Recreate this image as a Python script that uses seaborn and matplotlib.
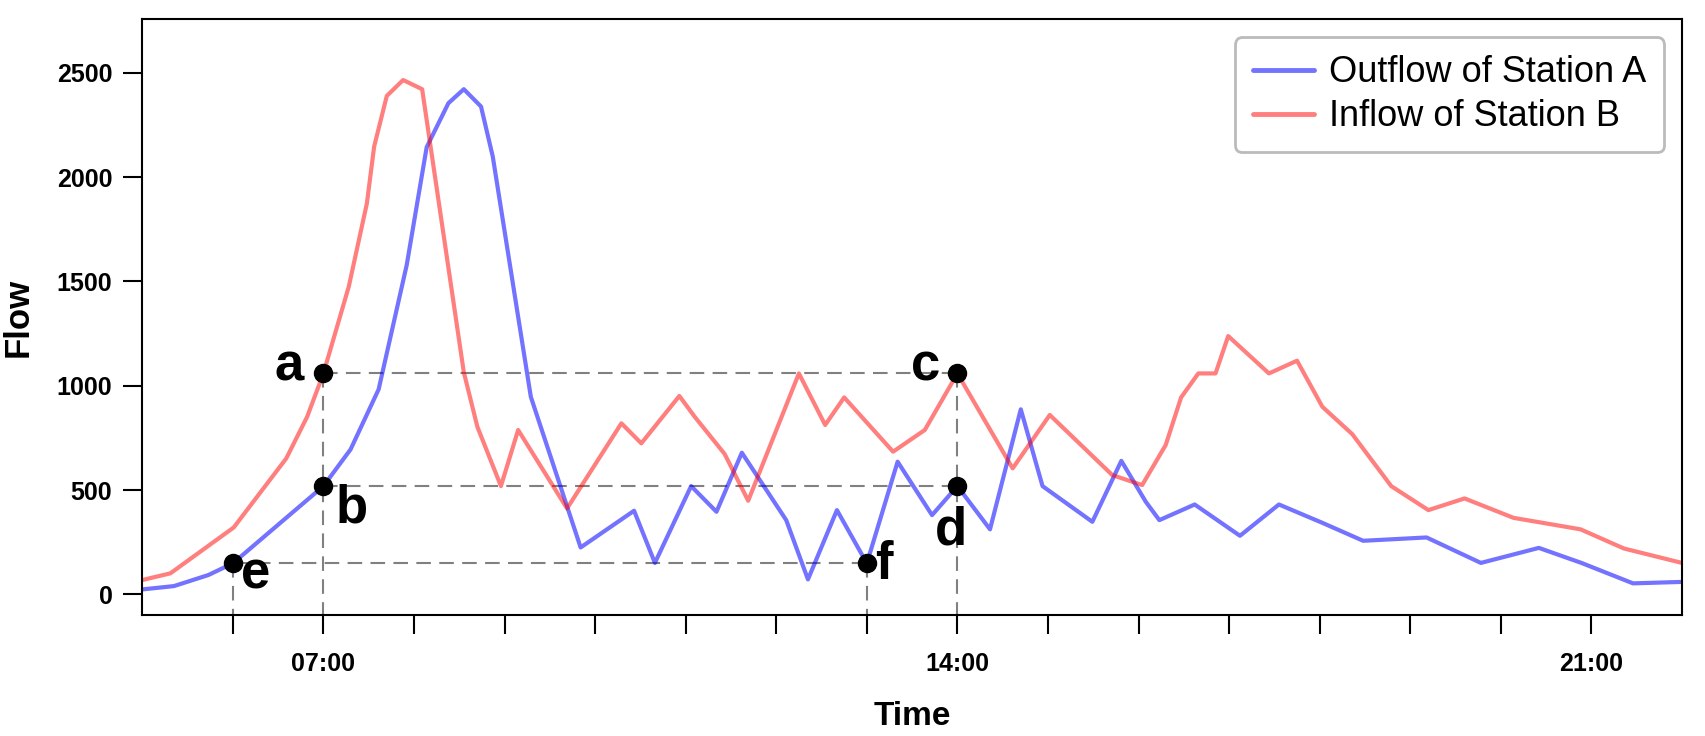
import numpy as np
import pandas as pd
import matplotlib.pyplot as plt
import seaborn as sns

# ---- data (time in hours, flow) ----
outflow_hours = [5.0, 5.35, 5.73, 6.0, 7.0, 7.30, 7.61, 7.92, 8.14, 8.38, 8.55, 8.74, 8.87,
                 9.29, 9.84, 10.43, 10.66, 11.06, 11.34, 11.62, 12.11, 12.35, 12.67, 13.0,
                 13.34, 13.72, 14.0, 14.36, 14.70, 14.94, 15.49, 15.81, 16.08, 16.23, 16.62,
                 17.12, 17.55, 18.03, 18.48, 19.18, 19.78, 20.42, 20.89, 21.46, 22.0]
outflow_values = [24, 40, 93, 149, 519, 695, 983, 1579, 2143, 2354, 2421, 2338, 2098,
                  947, 225, 401, 151, 519, 396, 679, 356, 72, 404, 149,
                  636, 380, 519, 312, 887, 519, 348, 640, 444, 356, 431,
                  281, 431, 343, 257, 273, 151, 223, 151, 53, 60]

inflow_hours = [5.0, 5.31, 6.01, 6.59, 6.82, 7.0, 7.28, 7.48, 7.56, 7.70, 7.88, 8.09, 8.55,
                8.70, 8.96, 9.15, 9.69, 10.29, 10.51, 10.93, 11.10, 11.43, 11.69, 12.25,
                12.54, 12.75, 13.29, 13.64, 14.0, 14.61, 15.02, 15.71, 16.04, 16.30, 16.47,
                16.66, 16.85, 16.99, 17.44, 17.75, 18.03, 18.36, 18.79, 19.20, 19.60, 20.14,
                20.88, 21.36, 22.0]
inflow_values = [69, 101, 321, 652, 851, 1059, 1475, 1874, 2146, 2389, 2465, 2421, 1065,
                 803, 519, 788, 412, 820, 724, 951, 851, 673, 449, 1059,
                 812, 944, 684, 788, 1059, 604, 860, 572, 524, 716, 944,
                 1059, 1059, 1238, 1059, 1120, 899, 768, 519, 404, 460, 367,
                 312, 220, 151]

# marked points a-f
point_labels = ['a', 'b', 'c', 'd', 'e', 'f']
point_hours = [7.0, 7.0, 14.0, 14.0, 6.0, 13.0]
point_values = [1059, 519, 1059, 519, 149, 149]

tick_hours = list(range(6, 22))
tick_labels = ['07:00' if h == 7 else '14:00' if h == 14 else '21:00' if h == 21 else ''
               for h in tick_hours]

df = pd.concat([
    pd.DataFrame({'Time': outflow_hours, 'Flow': outflow_values, 'Series': 'Outflow of Station A'}),
    pd.DataFrame({'Time': inflow_hours, 'Flow': inflow_values, 'Series': 'Inflow of Station B'}),
])

# ---- style ----
sns.set_style('ticks')
plt.rcParams['font.family'] = ['Liberation Sans', 'DejaVu Sans']
plt.rcParams['text.color'] = 'black'
plt.rcParams['axes.labelcolor'] = 'black'
plt.rcParams['xtick.color'] = 'black'
plt.rcParams['ytick.color'] = 'black'

fig = plt.figure(figsize=(17.06, 7.36), dpi=100)
ax = fig.add_axes([0.0834, 0.164, 0.9025, 0.8098])

ax.set_xlim(5, 22)
ax.set_ylim(-100, 2756)
ybot = ax.get_ylim()[0]

# dashed guide lines
dash = dict(color='#808080', lw=1.5, linestyle=(0, (7, 4)), zorder=1)
# horizontal: a->c, b->d, e->f
ax.plot([point_hours[0], point_hours[2]], [point_values[0], point_values[2]], **dash)
ax.plot([point_hours[1], point_hours[3]], [point_values[1], point_values[3]], **dash)
ax.plot([point_hours[4], point_hours[5]], [point_values[4], point_values[5]], **dash)
# vertical from a, c, e, f down to the axis
for i in [0, 2, 4, 5]:
    ax.plot([point_hours[i], point_hours[i]], [point_values[i], ybot], **dash)

sns.lineplot(data=df, x='Time', y='Flow', hue='Series',
             palette={'Outflow of Station A': (0, 0, 1, 0.55), 'Inflow of Station B': (1, 0, 0, 0.5)},
             linewidth=3, sort=False, ax=ax, zorder=2)

ax.plot(point_hours, point_values, 'o', color='black', markersize=13, zorder=4)

offsets = {'a': (-14, -5, 'right'), 'b': (9, -26, 'left'), 'c': (-12, -5, 'right'),
           'd': (-16, -42, 'left'), 'e': (6, -18, 'left'), 'f': (6, -11, 'left')}
for lab, hx, vy in zip(point_labels, point_hours, point_values):
    dx, dy, ha = offsets[lab]
    ax.annotate(lab, (hx, vy), xytext=(dx, dy), textcoords='offset points',
                ha=ha, va='baseline', fontsize=38, fontweight='bold', zorder=5)

ax.set_xticks(tick_hours)
ax.set_xticklabels(tick_labels)
ax.set_yticks([0, 500, 1000, 1500, 2000, 2500])
ax.tick_params(axis='both', direction='out', length=13.5, width=1.5, labelsize=18,
               bottom=True, left=True, colors='black')
ax.tick_params(axis='x', pad=13)
ax.tick_params(axis='y', pad=8)
for lab in ax.get_xticklabels() + ax.get_yticklabels():
    lab.set_fontweight('bold')

ax.set_xlabel('Time', fontsize=24, fontweight='bold', labelpad=18)
ax.set_ylabel('Flow', fontsize=25, fontweight='bold', labelpad=16)

for s in ax.spines.values():
    s.set_visible(True)
    s.set_color('black')
    s.set_linewidth(1.5)

leg = ax.legend(loc='upper right', fontsize=26, handlelength=1.7, handletextpad=0.4,
                labelspacing=0.25, borderpad=0.5, borderaxespad=0.5, fancybox=True,
                framealpha=1, edgecolor='#bbbbbb')
leg.get_frame().set_linewidth(2)
for line in leg.get_lines():
    line.set_linewidth(3.5)

fig.savefig('out.png', dpi=100)
